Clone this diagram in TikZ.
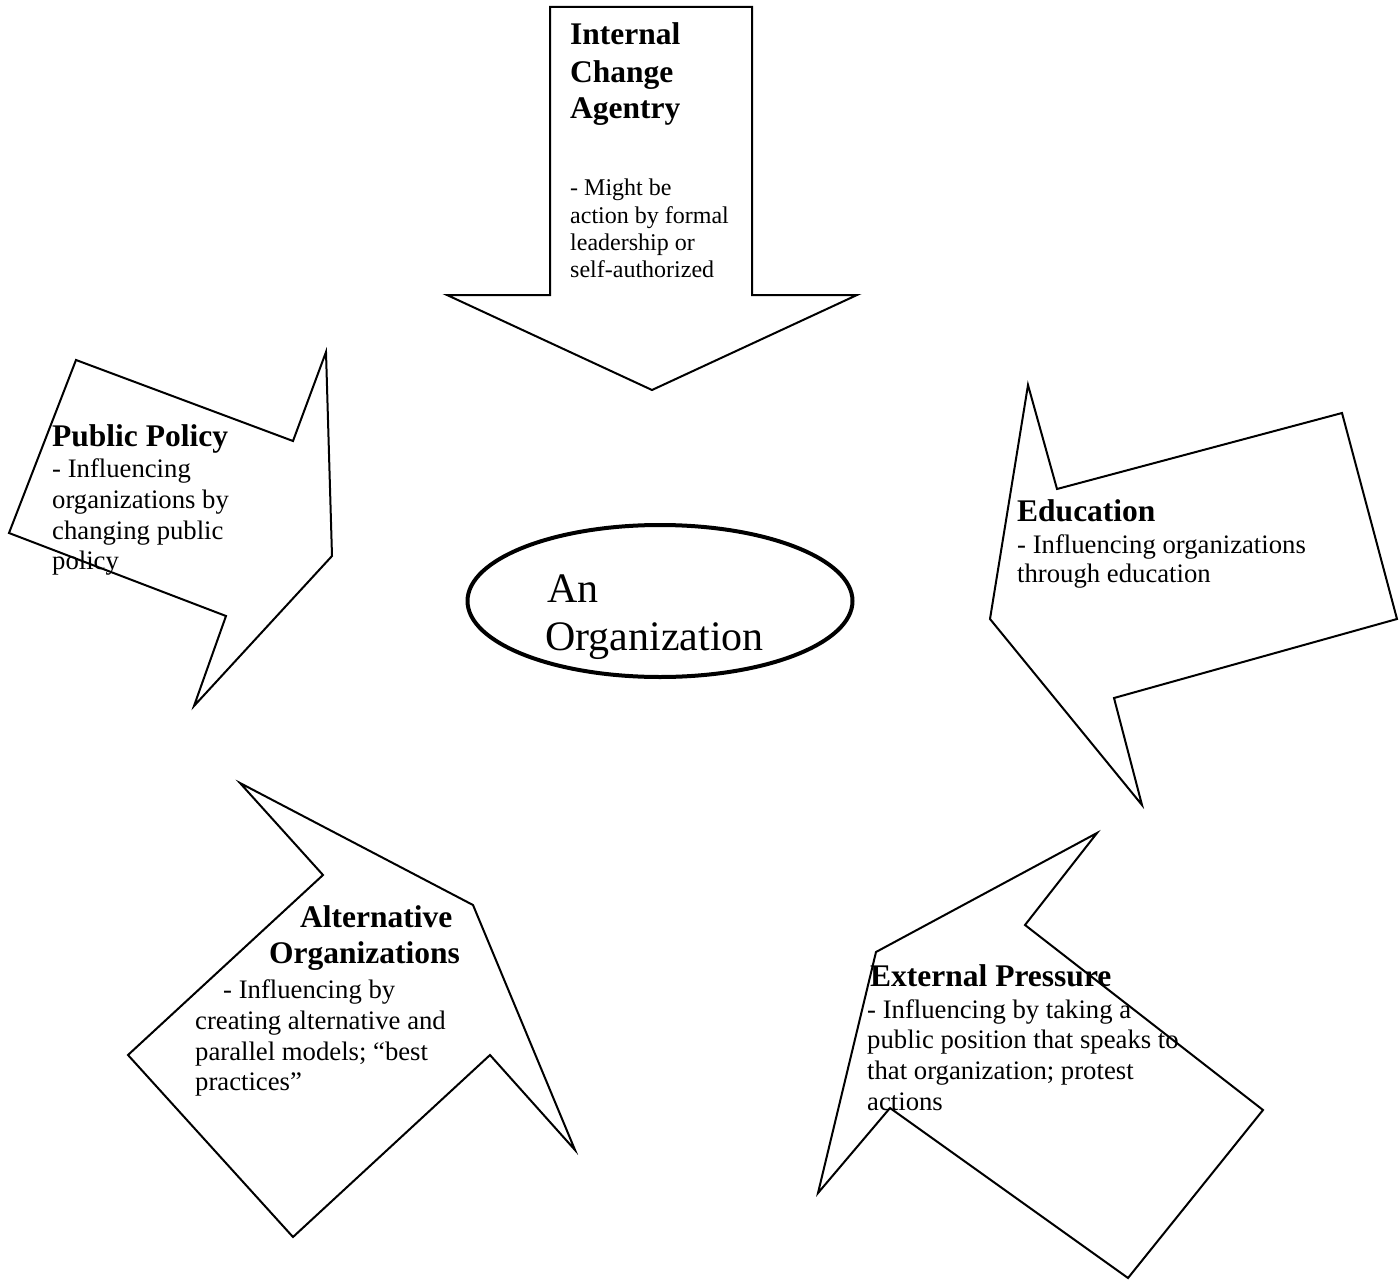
\documentclass[tikz,border=0pt]{standalone}
\usepackage{fontspec}
\setmainfont{Liberation Serif}
\usetikzlibrary{shapes.geometric}
\begin{document}
\begin{tikzpicture}[x=1pt,y=-1pt,line join=miter,
  arrowshape/.style={draw=black,line width=2pt},
  body/.style={anchor=base west,inner sep=0pt,font=\fontsize{26.7}{30}\selectfont},
  smallbody/.style={anchor=base west,inner sep=0pt,font=\fontsize{24}{27}\selectfont},
  head/.style={anchor=base west,inner sep=0pt,font=\bfseries\fontsize{31.5}{36}\selectfont},
  orgtext/.style={anchor=base west,inner sep=0pt,font=\fontsize{42}{48}\selectfont}]
\useasboundingbox (0,0) rectangle (1400,1287);

% central ellipse
\node[ellipse,draw=black,line width=4pt,minimum width=385pt,minimum height=152pt,inner sep=0pt] (org) at (660,601) {};
\node[orgtext] (orgA) at (547,602) {An};
\node[orgtext] (orgB) at (545,650) {Organization};

% Internal Change Agentry (top, pointing down)
\draw[arrowshape] (550,7) -- (752,7) -- (752,295) -- (857,295) -- (652,390) -- (447,295) -- (550,295) -- cycle;
\node[head] (ica1) at (570,45) {Internal};
\node[head] (ica2) at (570,83) {Change};
\node[head] (ica3) at (570,119) {Agentry};
\node[smallbody] (icb1) at (570,195) {- Might be};
\node[smallbody] (icb2) at (570,223) {action by formal};
\node[smallbody] (icb3) at (570,250) {leadership or};
\node[smallbody] (icb4) at (570,277) {self-authorized};

% Public Policy (left)
\draw[arrowshape] (76,360) -- (293,441) -- (326,352) -- (332,556) -- (194,706) -- (226,616) -- (9,533) -- cycle;
\node[head] (pph) at (52,446) {Public Policy};
\node[body] (ppb1) at (52,477) {- Influencing};
\node[body] (ppb2) at (52,508) {organizations by};
\node[body] (ppb3) at (52,539) {changing public};
\node[body] (ppb4) at (52,569) {policy};

% Education (right)
\draw[arrowshape] (990,619) -- (1028,385) -- (1057,489) -- (1342,413) -- (1397,619) -- (1114,698) -- (1142,805) -- cycle;
\node[head] (edh) at (1017,521) {Education};
\node[body] (edb1) at (1017,553) {- Influencing organizations};
\node[body] (edb2) at (1017,582) {through education};

% Alternative Organizations (bottom left)
\draw[arrowshape] (128,1055) -- (323,875) -- (240,783) -- (473,905) -- (575,1150) -- (490,1055) -- (293,1237) -- cycle;
\node[head] (aoh1) at (300,927) {Alternative};
\node[head] (aoh2) at (269,963) {Organizations};
\node[body] (aob1) at (223,998) {- Influencing by};
\node[body] (aob2) at (195,1029) {creating alternative and};
\node[body] (aob3) at (195,1060) {parallel models; “best};
\node[body] (aob4) at (195,1090) {practices”};

% External Pressure (bottom right)
\draw[arrowshape] (876,952) -- (1097,833) -- (1025,925) -- (1263,1110) -- (1128,1278) -- (890,1108) -- (818,1193) -- cycle;
\node[head] (eph) at (870,986) {External Pressure};
\node[body] (epb1) at (867,1018) {- Influencing by taking a};
\node[body] (epb2) at (867,1048) {public position that speaks to};
\node[body] (epb3) at (867,1079) {that organization; protest};
\node[body] (epb4) at (867,1110) {actions};
\end{tikzpicture}
\end{document}
